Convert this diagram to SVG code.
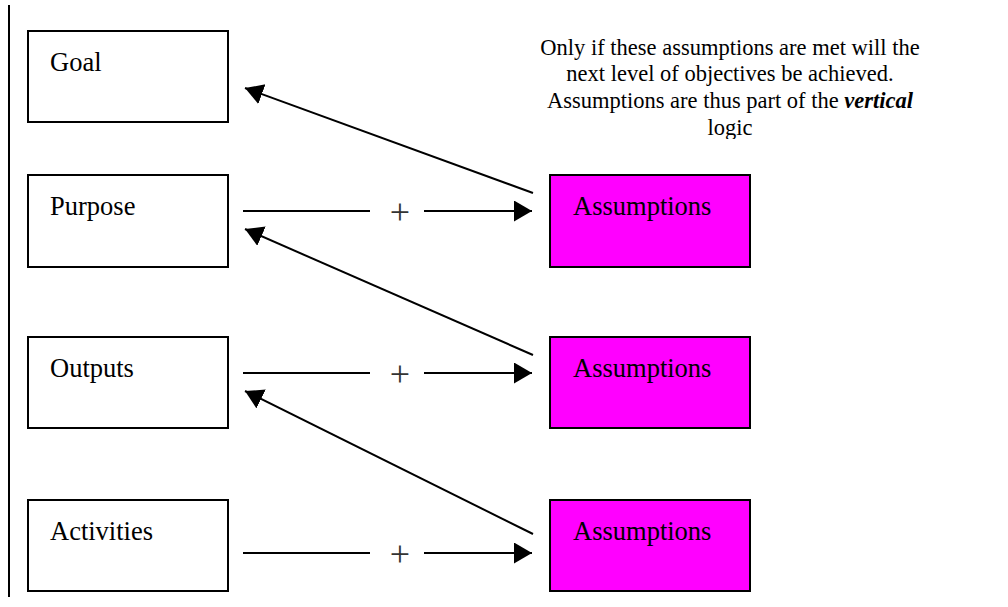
<svg xmlns="http://www.w3.org/2000/svg" width="1008" height="607" viewBox="0 0 1008 607">
  <style>
    .box { fill: #ffffff; stroke: #000000; stroke-width: 2; }
    .asm { fill: #ff00ff; stroke: #000000; stroke-width: 2; }
    .lvl-txt { font-size: 26.5px; fill: #000000; }
    .note-txt { font-size: 22.5px; fill: #000000; text-anchor: middle; }
    .plus-txt { font-size: 36px; fill: #333333; text-anchor: middle; }
    .conn { stroke: #000000; stroke-width: 2; fill: none; }
  </style>
  <defs>
    <marker id="head" markerUnits="userSpaceOnUse" markerWidth="20" markerHeight="22" refX="18" refY="10.5" orient="auto">
      <path d="M0,0 L18,10.5 L0,21 Z" fill="#000000"/>
    </marker>
    <clipPath id="noteClip">
      <rect x="500" y="0" width="460" height="139"/>
    </clipPath>
  </defs>

  <!-- left margin rule -->
  <line x1="9" y1="5" x2="9" y2="597" stroke="#000000" stroke-width="2"/>

  <!-- explanatory note -->
  <g id="note" clip-path="url(#noteClip)">
    <text class="note-txt" style="font-family: 'Liberation Serif', serif" x="730" y="55">Only if these assumptions are met will the</text>
    <text class="note-txt" style="font-family: 'Liberation Serif', serif" x="730" y="81">next level of objectives be achieved.</text>
    <text class="note-txt" style="font-family: 'Liberation Serif', serif" x="730" y="108">Assumptions are thus part of the <tspan font-weight="bold" font-style="italic">vertical</tspan></text>
    <text class="note-txt" style="font-family: 'Liberation Serif', serif" x="730" y="135">logic</text>
  </g>

  <!-- hierarchy of objectives -->
  <g id="goal">
    <rect class="box" x="28" y="31" width="200" height="91"/>
    <text class="lvl-txt" style="font-family: 'Liberation Serif', serif" x="50" y="71">Goal</text>
  </g>
  <g id="purpose">
    <rect class="box" x="28" y="175" width="200" height="92"/>
    <text class="lvl-txt" style="font-family: 'Liberation Serif', serif" x="50" y="215">Purpose</text>
  </g>
  <g id="outputs">
    <rect class="box" x="28" y="337" width="200" height="91"/>
    <text class="lvl-txt" style="font-family: 'Liberation Serif', serif" x="50" y="377">Outputs</text>
  </g>
  <g id="activities">
    <rect class="box" x="28" y="500" width="200" height="91"/>
    <text class="lvl-txt" style="font-family: 'Liberation Serif', serif" x="50" y="540">Activities</text>
  </g>

  <!-- assumptions -->
  <g id="assumptions-purpose">
    <rect class="asm" x="550" y="175" width="200" height="92"/>
    <text class="lvl-txt" style="font-family: 'Liberation Serif', serif" x="573" y="215">Assumptions</text>
  </g>
  <g id="assumptions-outputs">
    <rect class="asm" x="550" y="337" width="200" height="91"/>
    <text class="lvl-txt" style="font-family: 'Liberation Serif', serif" x="573" y="377">Assumptions</text>
  </g>
  <g id="assumptions-activities">
    <rect class="asm" x="550" y="500" width="200" height="91"/>
    <text class="lvl-txt" style="font-family: 'Liberation Serif', serif" x="573" y="540">Assumptions</text>
  </g>

  <!-- connectors -->
  <g id="connectors">
    <!-- level + assumptions -->
    <text class="plus-txt" style="font-family: 'Liberation Serif', serif" x="400" y="224">+</text>
    <text class="plus-txt" style="font-family: 'Liberation Serif', serif" x="400" y="386">+</text>
    <text class="plus-txt" style="font-family: 'Liberation Serif', serif" x="400" y="566">+</text>
    <line class="conn" x1="243" y1="211" x2="370" y2="211"/>
    <line class="conn" x1="424" y1="211" x2="532" y2="211" marker-end="url(#head)"/>
    <line class="conn" x1="243" y1="373" x2="370" y2="373"/>
    <line class="conn" x1="424" y1="373" x2="532" y2="373" marker-end="url(#head)"/>
    <line class="conn" x1="243" y1="553" x2="370" y2="553"/>
    <line class="conn" x1="424" y1="553" x2="532" y2="553" marker-end="url(#head)"/>

    <!-- leads to next level -->
    <line class="conn" x1="533" y1="193" x2="245" y2="88" marker-end="url(#head)"/>
    <line class="conn" x1="533" y1="355" x2="245" y2="229" marker-end="url(#head)"/>
    <line class="conn" x1="533" y1="534" x2="245" y2="391" marker-end="url(#head)"/>
  </g>
</svg>
